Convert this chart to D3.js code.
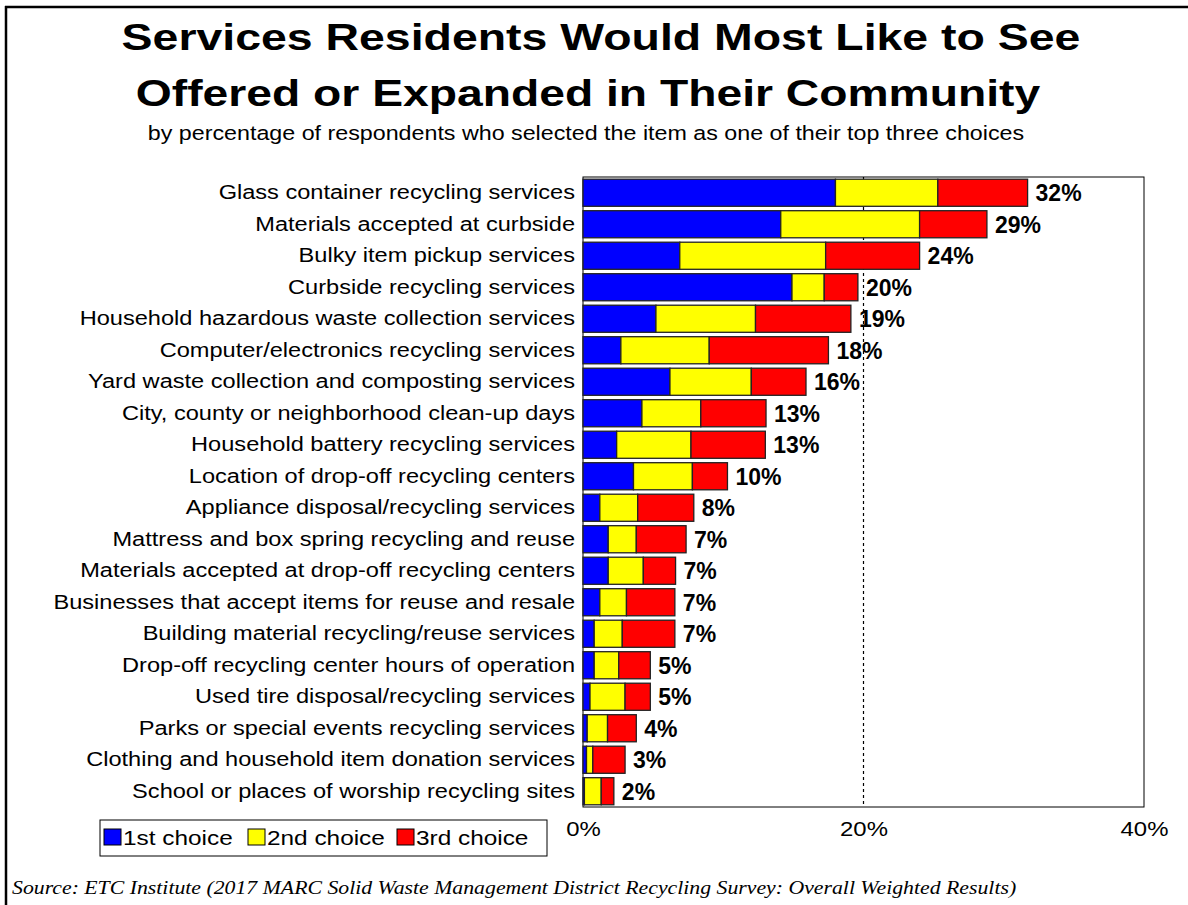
<!DOCTYPE html>
<html>
<head>
<meta charset="utf-8">
<script src="https://cdn.jsdelivr.net/npm/d3@7"></script>
<style>
  html, body { margin: 0; padding: 0; background: #fff; }
  svg { display: block; }
</style>
</head>
<body>
<svg id="chart" width="1188" height="905"></svg>
<script>
const categories = [
  "Glass container recycling services",
  "Materials accepted at curbside",
  "Bulky item pickup services",
  "Curbside recycling services",
  "Household hazardous waste collection services",
  "Computer/electronics recycling services",
  "Yard waste collection and composting services",
  "City, county or neighborhood clean-up days",
  "Household battery recycling services",
  "Location of drop-off recycling centers",
  "Appliance disposal/recycling services",
  "Mattress and box spring recycling and reuse",
  "Materials accepted at drop-off recycling centers",
  "Businesses that accept items for reuse and resale",
  "Building material recycling/reuse services",
  "Drop-off recycling center hours of operation",
  "Used tire disposal/recycling services",
  "Parks or special events recycling services",
  "Clothing and household item donation services",
  "School or places of worship recycling sites"
];
const firstChoice  = [18.0, 14.1, 6.9, 14.9, 5.2, 2.7, 6.2, 4.2, 2.4, 3.6, 1.2, 1.8, 1.8, 1.2, 0.8, 0.8, 0.5, 0.3, 0.25, 0.1];
const secondChoice = [7.3, 9.9, 10.4, 2.3, 7.1, 6.3, 5.8, 4.2, 5.3, 4.2, 2.7, 2.0, 2.5, 1.9, 2.0, 1.75, 2.5, 1.45, 0.45, 1.2];
const thirdChoice  = [6.4, 4.8, 6.7, 2.4, 6.8, 8.5, 3.9, 4.65, 5.3, 2.5, 4.0, 3.55, 2.3, 3.45, 3.75, 2.25, 1.8, 2.05, 2.3, 0.9];
const totalLabels  = ["32%","29%","24%","20%","19%","18%","16%","13%","13%","10%","8%","7%","7%","7%","7%","5%","5%","4%","3%","2%"];
const seriesNames  = ["1st choice", "2nd choice", "3rd choice"];
const seriesColors = ["#0000ff", "#ffff00", "#ff0000"];
const xTicks = [0, 20, 40];

const svg = d3.select("#chart");
const FONT = "'Liberation Sans', Arial, sans-serif";

// horizontal stretch of text about its anchor x (the reference renders wide glyphs)
function hStretch(sel, s) {
  sel.each(function () {
    const ax = +this.getAttribute("x") || 0;
    this.setAttribute("transform", `translate(${ax * (1 - s)},0) scale(${s},1)`);
  });
}

// frame lines
svg.append("line").attr("x1", 5).attr("x2", 1188).attr("y1", 7).attr("y2", 7)
  .attr("stroke", "#000").attr("stroke-width", 2.5);
svg.append("line").attr("x1", 6).attr("x2", 6).attr("y1", 6).attr("y2", 905)
  .attr("stroke", "#000").attr("stroke-width", 2.5);

// titles
const t1 = svg.append("text").attr("x", 601).attr("y", 50).attr("text-anchor", "middle")
  .attr("font-family", FONT).attr("font-weight", "bold").attr("font-size", 37)
  .text("Services Residents Would Most Like to See");
hStretch(t1, 1.255);
const t2 = svg.append("text").attr("x", 588).attr("y", 106).attr("text-anchor", "middle")
  .attr("font-family", FONT).attr("font-weight", "bold").attr("font-size", 37)
  .text("Offered or Expanded in Their Community");
hStretch(t2, 1.25);
const st = svg.append("text").attr("x", 586).attr("y", 140).attr("text-anchor", "middle")
  .attr("font-family", FONT).attr("font-size", 19.5)
  .text("by percentage of respondents who selected the item as one of their top three choices");
hStretch(st, 1.193);

const plot = { left: 583, right: 1144, top: 177, bottom: 807 };
const x = d3.scaleLinear().domain([0, 40]).range([plot.left, plot.right]);
const y = d3.scaleBand().domain(categories).range([plot.top, plot.bottom]).paddingInner(0.14).paddingOuter(0.07);

const rows = categories.map((c, i) => ({ cat: c, s0: firstChoice[i], s1: secondChoice[i], s2: thirdChoice[i], label: totalLabels[i] }));
const stacked = d3.stack().keys(["s0", "s1", "s2"])(rows);

// plot border
svg.append("rect").attr("x", plot.left).attr("y", plot.top)
  .attr("width", plot.right - plot.left).attr("height", plot.bottom - plot.top)
  .attr("fill", "none").attr("stroke", "#000").attr("stroke-width", 1);

// dashed line at 20%
svg.append("line").attr("x1", x(20)).attr("x2", x(20)).attr("y1", plot.top).attr("y2", plot.bottom)
  .attr("stroke", "#000").attr("stroke-width", 1.2).attr("stroke-dasharray", "3,3");

// bars
svg.append("g").selectAll("g").data(stacked).join("g")
  .attr("fill", (d, i) => seriesColors[i])
  .selectAll("rect").data(d => d).join("rect")
  .attr("x", d => x(d[0]))
  .attr("y", d => y(d.data.cat))
  .attr("width", d => x(d[1]) - x(d[0]))
  .attr("height", y.bandwidth())
  .attr("stroke", "#222").attr("stroke-width", 1.3);

// value labels
svg.append("g").selectAll("text").data(rows).join("text")
  .attr("x", d => x(d.s0 + d.s1 + d.s2) + 8)
  .attr("y", d => y(d.cat) + y.bandwidth() / 2)
  .attr("dy", "0.36em")
  .attr("font-family", FONT).attr("font-weight", "bold").attr("font-size", 23)
  .text(d => d.label);

// category axis
const yAxis = svg.append("g").attr("transform", `translate(${plot.left - 8},0)`)
  .call(d3.axisLeft(y).tickSize(0).tickPadding(0));
yAxis.select(".domain").remove();
yAxis.selectAll("text").attr("font-family", FONT).attr("font-size", 19.5).attr("fill", "#000");
hStretch(yAxis.selectAll("text"), 1.21);

// x axis
const xAxis = svg.append("g").attr("transform", `translate(0,${plot.bottom + 14})`)
  .call(d3.axisBottom(x).tickValues(xTicks).tickFormat(d => d + "%").tickSize(0).tickPadding(0));
xAxis.select(".domain").remove();
xAxis.selectAll("text").attr("font-family", FONT).attr("font-size", 21).attr("fill", "#000");
hStretch(xAxis.selectAll("text"), 1.14);

// legend
const lg = svg.append("g");
lg.append("rect").attr("x", 100).attr("y", 820).attr("width", 447).attr("height", 36)
  .attr("fill", "#fff").attr("stroke", "#000").attr("stroke-width", 1);
const legendX = [104, 248, 397];
seriesNames.forEach((n, i) => {
  lg.append("rect").attr("x", legendX[i]).attr("y", 829).attr("width", 17).attr("height", 16)
    .attr("fill", seriesColors[i]).attr("stroke", "#000").attr("stroke-width", 1);
  const t = lg.append("text").attr("x", legendX[i] + 19).attr("y", 845)
    .attr("font-family", FONT).attr("font-size", 19.5).text(n);
  hStretch(t, 1.25);
});

// source
const src = svg.append("text").attr("x", 12).attr("y", 894)
  .attr("font-family", "'Liberation Serif', 'Times New Roman', serif").attr("font-style", "italic").attr("font-size", 18)
  .text("Source:  ETC Institute (2017 MARC Solid Waste Management District Recycling Survey: Overall Weighted Results)");
hStretch(src, 1.21);
</script>
</body>
</html>
